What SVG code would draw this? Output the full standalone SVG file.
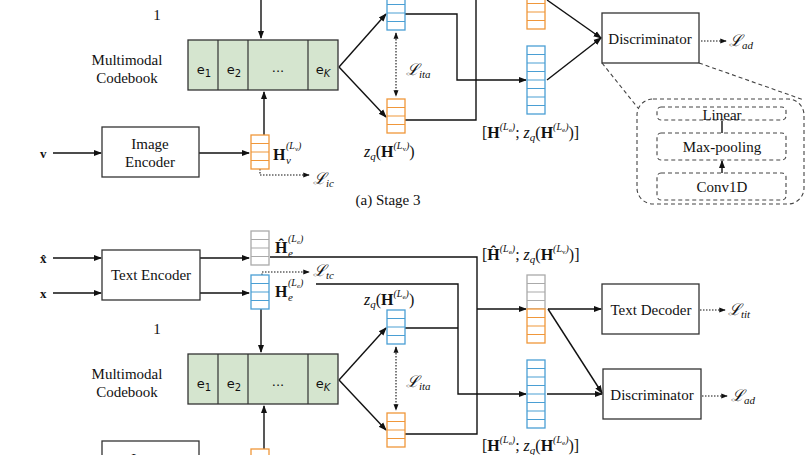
<svg xmlns="http://www.w3.org/2000/svg" width="808" height="455" viewBox="0 0 808 455">
<style>
text{font-family:"Liberation Serif",serif;fill:#111;}
.t{font-size:15px;text-anchor:middle}
.m{font-size:16px}
.b{font-weight:bold}
.i{font-style:italic}
.sup{font-size:10px;font-style:italic}
.sub{font-size:11px;font-style:italic}
.box{fill:#fff;stroke:#333;stroke-width:1.3}
.cb{fill:#d5e5cf;stroke:#333;stroke-width:1.3}
.ln{fill:none;stroke:#111;stroke-width:1.4}
.dot{fill:none;stroke:#111;stroke-width:1.1;stroke-dasharray:1.5 1.5}
.dash{fill:none;stroke:#444;stroke-width:1.1;stroke-dasharray:4 3}
.s{font-family:"DejaVu Sans",sans-serif;font-size:13px;text-anchor:middle}
</style>
<defs>
<marker id="a" viewBox="0 0 8 8" refX="7" refY="4" markerWidth="6" markerHeight="6" orient="auto"><path d="M0,1 L8,4 L0,7z" fill="#111"/></marker>
<marker id="a2" viewBox="0 0 8 8" refX="1" refY="4" markerWidth="6" markerHeight="6" orient="auto"><path d="M8,1 L0,4 L8,7z" fill="#111"/></marker>
<symbol id="v4" overflow="visible"><rect x="0" y="0" width="18" height="34" fill="#fff" stroke="currentColor" stroke-width="1.3"/><path d="M0 8.5H18M0 17H18M0 25.5H18" stroke="currentColor" stroke-width="1.1"/></symbol>
<symbol id="v8" overflow="visible"><rect x="0" y="0" width="18" height="68" fill="#fff" stroke="currentColor" stroke-width="1.3"/><path d="M0 8.5H18M0 17H18M0 25.5H18M0 34H18M0 42.5H18M0 51H18M0 59.5H18" stroke="currentColor" stroke-width="1.1"/></symbol>
</defs>

<g id="connectors">
<path class="ln" d="M261 0V38" marker-end="url(#a)"/>
<path class="ln" d="M264 135V92" marker-end="url(#a)"/>
<path class="ln" d="M53 153H101" marker-end="url(#a)"/>
<path class="ln" d="M199 153H249" marker-end="url(#a)"/>
<path class="dot" d="M260 169V175H309" marker-end="url(#a)"/>
<path class="ln" d="M339 67L386 14" marker-end="url(#a)"/>
<path class="ln" d="M339 67L386 117" marker-end="url(#a)"/>
<path class="dot" d="M396 33V96" marker-start="url(#a2)" marker-end="url(#a)"/>
<path class="ln" d="M405 14H457V80H526" marker-end="url(#a)"/>
<path class="ln" d="M405 120H476V0"/>
<path class="ln" d="M547 0L601 38" marker-end="url(#a)"/>
<path class="ln" d="M547 80L601 38" marker-end="url(#a)"/>
<path class="dot" d="M701 41H726" marker-end="url(#a)"/>
<path class="dash" d="M602 63L638 108M699 63L804 100"/>
<path class="ln" d="M722 133V121M722 173V161" marker-end="url(#a)"/>
<path class="ln" d="M53 258H101" marker-end="url(#a)"/>
<path class="ln" d="M53 293H101" marker-end="url(#a)"/>
<path class="ln" d="M200 258H249" marker-end="url(#a)"/>
<path class="ln" d="M200 293H249" marker-end="url(#a)"/>
<path class="dot" d="M262 275V272H309" marker-end="url(#a)"/>
<path class="ln" d="M270 257H477V434H405"/>
<path class="ln" d="M477 309H526" marker-end="url(#a)"/>
<path class="ln" d="M316 284H458V394H526" marker-end="url(#a)"/>
<path class="ln" d="M405 328H458"/>
<path class="ln" d="M261 309V352" marker-end="url(#a)"/>
<path class="ln" d="M264 455V406" marker-end="url(#a)"/>
<path class="ln" d="M339 380L386 328" marker-end="url(#a)"/>
<path class="ln" d="M339 380L386 430" marker-end="url(#a)"/>
<path class="dot" d="M396 347V410" marker-start="url(#a2)" marker-end="url(#a)"/>
<path class="ln" d="M548 309H601" marker-end="url(#a)"/>
<path class="ln" d="M548 309L602 393" marker-end="url(#a)"/>
<path class="ln" d="M547 394H602" marker-end="url(#a)"/>
<path class="dot" d="M700 310H725" marker-end="url(#a)"/>
<path class="dot" d="M702 396H727" marker-end="url(#a)"/>
</g>

<text x="157" y="20" class="t" font-size="16">1</text>
<g id="codebook1">
<text x="127" y="65" class="t">Multimodal</text><text x="127" y="83" class="t">Codebook</text>
<rect class="cb" x="188" y="40" width="150" height="50"/>
<path d="M218 40V90M248 40V90M308 40V90" stroke="#333" stroke-width="1.2"/>
<text x="204" y="74" class="s">e<tspan font-size="10" dy="3">1</tspan></text>
<text x="234" y="74" class="s">e<tspan font-size="10" dy="3">2</tspan></text>
<text x="278" y="72" class="s">...</text>
<text x="323" y="74" class="s">e<tspan font-size="10" dy="3" font-style="italic">K</tspan></text>
</g>
<g id="imgenc1"><rect class="box" x="102" y="127" width="97" height="50"/><text x="150" y="149" class="t">Image</text><text x="150" y="167" class="t">Encoder</text></g>
<text x="40" y="158" font-family="DejaVu Sans" font-weight="bold" font-size="13">v</text>
<g id="hv1"><use href="#v4" x="251" y="135" color="#f0973a"/>
<text x="273" y="160" class="m b">H</text><text x="286" y="164" class="sub">v</text><text x="286" y="149" class="sup">(L<tspan font-size="7" dy="2">v</tspan><tspan dy="-2">)</tspan></text></g>
<text x="313" y="184" class="m i">ℒ<tspan class="sub" dy="3">ic</tspan></text>
<g id="zqe1"><use href="#v4" x="387" y="-4" color="#4a9fd4"/></g>
<g id="zqv1"><use href="#v4" x="387" y="99" color="#f0973a"/>
<text x="364" y="157" class="m"><tspan class="i">z</tspan><tspan class="sub" dy="3">q</tspan><tspan dy="-3">(</tspan><tspan class="b">H</tspan><tspan class="sup" dy="-8">(L</tspan><tspan font-size="7" dy="2">v</tspan><tspan class="sup" dy="-2">)</tspan><tspan dy="8">)</tspan></text></g>
<text x="406" y="75" class="m i">ℒ<tspan class="sub" dy="3">ita</tspan></text>
<use href="#v4" x="527" y="-5" color="#f0973a"/>
<g id="cat1"><use href="#v8" x="527" y="46" color="#4a9fd4"/>
<text x="482" y="138" class="m">[<tspan class="b">H</tspan><tspan class="sup" dy="-8">(L</tspan><tspan font-size="7" dy="2">e</tspan><tspan class="sup" dy="-2">)</tspan><tspan dy="8">; </tspan><tspan class="i">z</tspan><tspan class="sub" dy="3">q</tspan><tspan dy="-3">(</tspan><tspan class="b">H</tspan><tspan class="sup" dy="-8">(L</tspan><tspan font-size="7" dy="2">e</tspan><tspan class="sup" dy="-2">)</tspan><tspan dy="8">)]</tspan></text></g>
<g id="disc1"><rect class="box" x="602" y="13" width="97" height="50"/><text x="650" y="44" class="t">Discriminator</text></g>
<text x="729" y="46" class="m i">ℒ<tspan class="sub" dy="3">ad</tspan></text>
<g id="discdetail">
<rect class="dash" x="637" y="99" width="167" height="105" rx="16"/>
<rect class="dash" x="657" y="107" width="129" height="13" rx="4"/>
<rect class="dash" x="657" y="133" width="129" height="27" rx="4"/>
<rect class="dash" x="657" y="173" width="129" height="27" rx="4"/>
<text x="722" y="120" class="t">Linear</text>
<text x="722" y="152" class="t">Max-pooling</text>
<text x="722" y="192" class="t">Conv1D</text>
</g>
<text x="388" y="205" class="t">(a) Stage 3</text>

<text x="40" y="263" font-family="DejaVu Sans" font-weight="bold" font-size="13">x̂</text>
<text x="40" y="298" font-family="DejaVu Sans" font-weight="bold" font-size="13">x</text>
<g id="txtenc2"><rect class="box" x="102" y="250" width="98" height="50"/><text x="151" y="280" class="t">Text Encoder</text></g>
<g id="hhat2"><use href="#v4" x="251" y="231" color="#aaa"/>
<text x="275" y="253" class="m b">Ĥ</text><text x="288" y="257" class="sub">e</text><text x="288" y="242" class="sup">(L<tspan font-size="7" dy="2">e</tspan><tspan dy="-2">)</tspan></text></g>
<g id="he2"><use href="#v4" x="251" y="275" color="#4a9fd4"/>
<text x="275" y="297" class="m b">H</text><text x="288" y="301" class="sub">e</text><text x="288" y="286" class="sup">(L<tspan font-size="7" dy="2">e</tspan><tspan dy="-2">)</tspan></text></g>
<text x="313" y="276" class="m i">ℒ<tspan class="sub" dy="3">tc</tspan></text>
<text x="157" y="334" class="t" font-size="16">1</text>
<g id="codebook2">
<text x="127" y="379" class="t">Multimodal</text><text x="127" y="397" class="t">Codebook</text>
<rect class="cb" x="188" y="354" width="150" height="50"/>
<path d="M218 354V404M248 354V404M308 354V404" stroke="#333" stroke-width="1.2"/>
<text x="204" y="388" class="s">e<tspan font-size="10" dy="3">1</tspan></text>
<text x="234" y="388" class="s">e<tspan font-size="10" dy="3">2</tspan></text>
<text x="278" y="386" class="s">...</text>
<text x="323" y="388" class="s">e<tspan font-size="10" dy="3" font-style="italic">K</tspan></text>
</g>
<g id="zqe2"><use href="#v4" x="387" y="310" color="#4a9fd4"/>
<text x="364" y="305" class="m"><tspan class="i">z</tspan><tspan class="sub" dy="3">q</tspan><tspan dy="-3">(</tspan><tspan class="b">H</tspan><tspan class="sup" dy="-8">(L</tspan><tspan font-size="7" dy="2">e</tspan><tspan class="sup" dy="-2">)</tspan><tspan dy="8">)</tspan></text></g>
<g id="zqv2"><use href="#v4" x="387" y="413" color="#f0973a"/></g>
<text x="406" y="387" class="m i">ℒ<tspan class="sub" dy="3">ita</tspan></text>
<g id="imgenc2"><rect class="box" x="102" y="441" width="97" height="50"/><text x="150" y="464" class="t">Image</text></g>
<use href="#v4" x="251" y="449" color="#f0973a"/>
<g id="cat2a"><use href="#v4" x="527" y="275" color="#aaa"/><use href="#v4" x="527" y="309" color="#f0973a"/>
<text x="482" y="260" class="m">[<tspan class="b">Ĥ</tspan><tspan class="sup" dy="-8">(L</tspan><tspan font-size="7" dy="2">e</tspan><tspan class="sup" dy="-2">)</tspan><tspan dy="8">; </tspan><tspan class="i">z</tspan><tspan class="sub" dy="3">q</tspan><tspan dy="-3">(</tspan><tspan class="b">H</tspan><tspan class="sup" dy="-8">(L</tspan><tspan font-size="7" dy="2">v</tspan><tspan class="sup" dy="-2">)</tspan><tspan dy="8">)]</tspan></text></g>
<g id="cat2b"><use href="#v8" x="527" y="360" color="#4a9fd4"/>
<text x="482" y="451" class="m">[<tspan class="b">H</tspan><tspan class="sup" dy="-8">(L</tspan><tspan font-size="7" dy="2">e</tspan><tspan class="sup" dy="-2">)</tspan><tspan dy="8">; </tspan><tspan class="i">z</tspan><tspan class="sub" dy="3">q</tspan><tspan dy="-3">(</tspan><tspan class="b">H</tspan><tspan class="sup" dy="-8">(L</tspan><tspan font-size="7" dy="2">e</tspan><tspan class="sup" dy="-2">)</tspan><tspan dy="8">)]</tspan></text></g>
<g id="textdec2"><rect class="box" x="602" y="284" width="97" height="50"/><text x="651" y="315" class="t">Text Decoder</text></g>
<text x="728" y="315" class="m i">ℒ<tspan class="sub" dy="3">tit</tspan></text>
<g id="disc2"><rect class="box" x="603" y="369" width="98" height="50"/><text x="652" y="400" class="t">Discriminator</text></g>
<text x="731" y="401" class="m i">ℒ<tspan class="sub" dy="3">ad</tspan></text>
</svg>
